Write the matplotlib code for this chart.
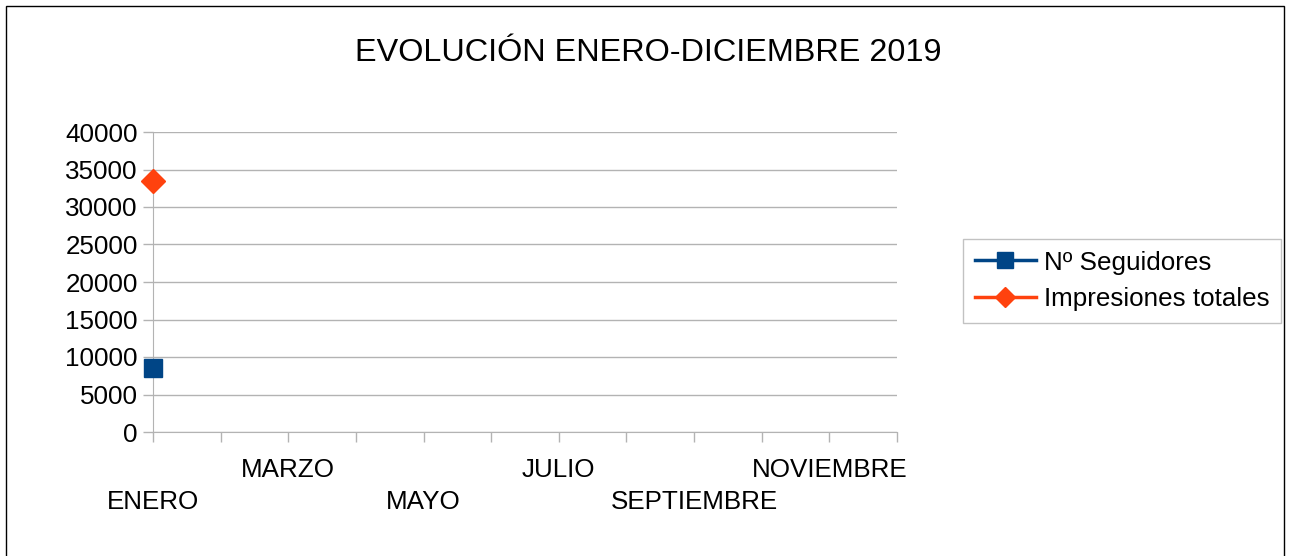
import numpy as np
import matplotlib
matplotlib.use('Agg')
import matplotlib.pyplot as plt
from matplotlib.patches import Rectangle

plt.rcParams['font.family'] = ['Liberation Sans', 'DejaVu Sans']

# data
meses = ['ENERO', 'FEBRERO', 'MARZO', 'ABRIL', 'MAYO', 'JUNIO', 'JULIO',
         'AGOSTO', 'SEPTIEMBRE', 'OCTUBRE', 'NOVIEMBRE', 'DICIEMBRE']
seguidores = [8500] + [np.nan] * 11
impresiones = [33500] + [np.nan] * 11

fs = 18.7

fig = plt.figure(figsize=(12.9, 5.56), dpi=100)
ax = fig.add_axes([153 / 1290, 1 - 432 / 556, 744 / 1290, 300 / 556])

x = np.arange(len(meses))
ax.plot(x, seguidores, color='#004586', lw=2.5, marker='s', markersize=13.5,
        label='Nº Seguidores', clip_on=False, zorder=5)
ax.plot(x, impresiones, color='#ff420e', lw=2.5, marker='D', markersize=12,
        label='Impresiones totales', clip_on=False, zorder=5)

ax.set_xlim(0, 11)
ax.set_ylim(0, 40000)
ax.set_yticks(range(0, 40001, 5000))
ax.yaxis.grid(True, color='#b3b3b3', lw=1)
ax.set_axisbelow(True)
for s in ['top', 'right']:
    ax.spines[s].set_visible(False)
for s in ['left', 'bottom']:
    ax.spines[s].set_color('#b3b3b3')
ax.tick_params(axis='both', colors='#b3b3b3', length=7, width=1,
               labelcolor='black', labelsize=fs)
ax.tick_params(axis='y', pad=4)

ax.set_xticks(x)
ax.set_xticklabels([])
for i, m in enumerate(meses):
    if i % 2 == 0:
        off = 70 if i % 4 == 0 else 38
        ax.annotate(m, (i, 0), xytext=(0, -off), textcoords='offset pixels',
                    ha='center', va='center', fontsize=fs)

fig.text(648 / 1290, 1 - 53 / 556, 'EVOLUCIÓN ENERO-DICIEMBRE 2019',
         ha='center', va='center', fontsize=23.3)

leg = ax.legend(loc='center left', bbox_to_anchor=(963 / 1290, 1 - 281 / 556),
                bbox_transform=fig.transFigure, fontsize=fs, frameon=True,
                fancybox=False, edgecolor='#b3b3b3', handlelength=2.35,
                borderpad=0.45, labelspacing=0.5, handletextpad=0.3,
                borderaxespad=0, markerscale=0.85)
leg.get_frame().set_linewidth(1)

fig.patches.append(Rectangle((6 / 1290, -0.01), 1278 / 1290, 1 - 6 / 556 + 0.01,
                             transform=fig.transFigure, fill=False,
                             edgecolor='black', lw=1))

fig.savefig('out.png', dpi=100)
